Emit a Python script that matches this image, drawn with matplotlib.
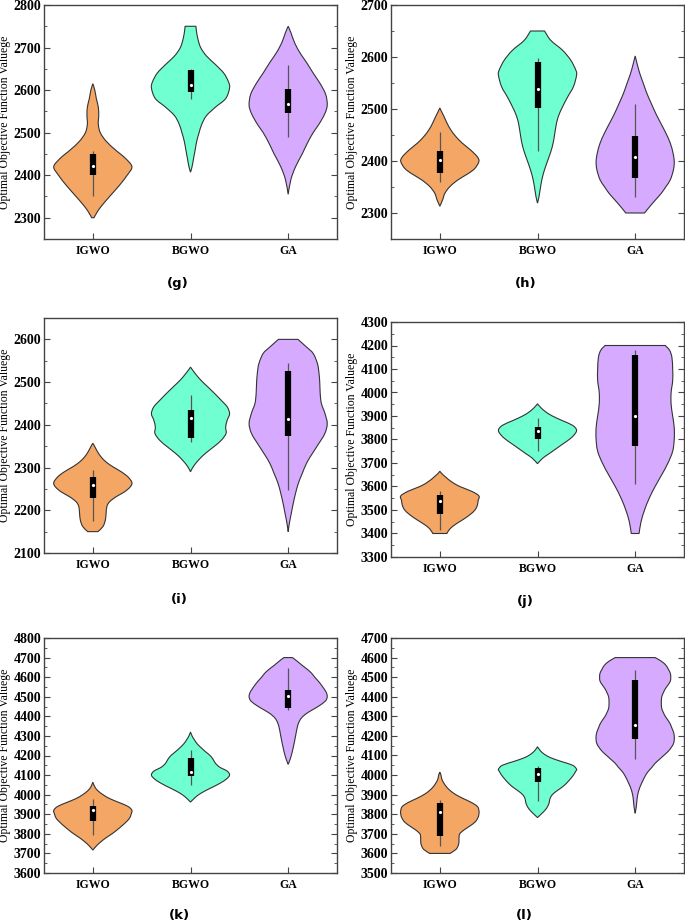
import matplotlib
matplotlib.use('Agg')
import matplotlib.pyplot as plt
import numpy as np
from matplotlib.ticker import MultipleLocator
from matplotlib.path import Path
from matplotlib.patches import PathPatch

algorithms = ['IGWO', 'BGWO', 'GA']
colors = ['#F4A664', '#70FFD1', '#D6ABFF']
panel_names = ['(g)', '(h)', '(i)', '(j)', '(k)', '(l)']

# violin profiles: value levels and relative half-width (percent of widest)
g_levels = [
    [2300, 2310, 2325, 2350, 2375, 2400, 2420, 2440, 2460, 2480, 2500, 2520, 2540, 2560, 2580, 2600, 2615],
    [2407, 2420, 2440, 2460, 2480, 2500, 2520, 2540, 2560, 2580, 2605, 2620, 2640, 2660, 2680, 2700, 2720, 2740, 2750],
    [2355, 2390, 2420, 2450, 2475, 2500, 2520, 2545, 2565, 2590, 2615, 2640, 2665, 2685, 2710, 2735, 2750],
]
g_widths = [
    [3, 9, 20, 43, 67, 88, 100, 83, 57, 34, 19, 14, 15, 14, 9, 5, 0],
    [0, 4, 8, 12, 16, 22, 29, 41, 64, 90, 100, 97, 85, 64, 41, 26, 19, 15, 14],
    [0, 7, 19, 36, 49, 64, 79, 94, 100, 96, 82, 64, 47, 32, 17, 7, 0],
]
h_levels = [
    [2313, 2325, 2338, 2351, 2364, 2376, 2386, 2399, 2408, 2421, 2434, 2447, 2460, 2472, 2485, 2494, 2502],
    [2319, 2332, 2351, 2370, 2390, 2409, 2428, 2447, 2466, 2485, 2504, 2523, 2543, 2565, 2575, 2594, 2613, 2632, 2650],
    [2300, 2313, 2326, 2338, 2351, 2364, 2383, 2399, 2415, 2434, 2453, 2472, 2491, 2511, 2530, 2549, 2568, 2584, 2602],
]
h_widths = [
    [0, 7, 13, 26, 47, 73, 90, 100, 96, 79, 58, 41, 28, 19, 11, 5, 0],
    [0, 4, 8, 13, 21, 30, 38, 43, 47, 53, 64, 77, 92, 100, 98, 85, 64, 34, 18],
    [24, 38, 53, 67, 79, 90, 98, 100, 97, 90, 79, 66, 53, 41, 30, 21, 12, 6, 0],
]
i_levels = [
    [2150, 2162, 2177, 2193, 2209, 2220, 2232, 2243, 2255, 2265, 2278, 2290, 2302, 2313, 2325, 2337, 2349, 2357],
    [2290, 2302, 2318, 2333, 2349, 2364, 2380, 2395, 2411, 2426, 2442, 2457, 2473, 2489, 2504, 2520, 2535],
    [2150, 2169, 2193, 2216, 2240, 2263, 2286, 2310, 2333, 2357, 2380, 2403, 2427, 2450, 2473, 2496, 2520, 2543, 2567, 2582, 2600],
]
i_widths = [
    [13, 26, 32, 34, 36, 43, 60, 81, 96, 100, 90, 73, 51, 34, 21, 12, 5, 0],
    [0, 7, 21, 38, 60, 79, 91, 90, 94, 100, 94, 79, 62, 44, 27, 12, 0],
    [0, 3, 8, 13, 19, 26, 36, 47, 62, 79, 94, 100, 94, 85, 82, 81, 79, 75, 64, 47, 25],
]
j_levels = [
    [3400, 3420, 3440, 3460, 3480, 3500, 3520, 3540, 3560, 3580, 3600, 3620, 3640, 3655, 3665],
    [3697, 3720, 3740, 3760, 3780, 3800, 3820, 3840, 3860, 3880, 3900, 3920, 3940, 3952],
    [3400, 3450, 3500, 3550, 3600, 3650, 3700, 3750, 3800, 3850, 3900, 3950, 4000, 4050, 4100, 4150, 4180, 4200],
]
j_widths = [
    [18, 26, 41, 60, 77, 90, 96, 98, 100, 81, 51, 30, 15, 5, 0],
    [0, 13, 30, 47, 64, 81, 94, 100, 90, 64, 38, 19, 6, 0],
    [10, 15, 24, 36, 51, 68, 84, 96, 100, 100, 96, 92, 92, 96, 96, 94, 88, 77],
]
k_levels = [
    [3717, 3740, 3760, 3780, 3800, 3820, 3840, 3860, 3880, 3900, 3920, 3940, 3960, 3980, 4000, 4020, 4040, 4064],
    [3962, 3980, 4000, 4020, 4040, 4060, 4080, 4100, 4120, 4140, 4160, 4180, 4200, 4220, 4240, 4260, 4280, 4300, 4320],
    [4155, 4170, 4200, 4250, 4300, 4350, 4380, 4400, 4420, 4440, 4460, 4480, 4500, 4520, 4540, 4560, 4580, 4600,
     4620, 4640, 4660, 4680, 4700],
]
k_widths = [
    [0, 10, 21, 34, 49, 62, 74, 85, 94, 98, 100, 90, 67, 43, 26, 13, 5, 0],
    [0, 9, 21, 38, 58, 77, 92, 100, 94, 75, 64, 58, 50, 38, 27, 17, 10, 4, 0],
    [0, 3, 8, 14, 19, 24, 30, 38, 51, 68, 84, 96, 100, 98, 92, 85, 77, 68, 60, 49, 36, 24, 11],
]
l_levels = [
    [3600, 3620, 3640, 3660, 3680, 3700, 3720, 3740, 3760, 3780, 3800, 3820, 3840, 3860, 3880, 3900, 3920, 3940,
     3960, 3980, 4000, 4015],
    [3783, 3800, 3820, 3840, 3860, 3880, 3900, 3920, 3940, 3960, 3980, 4000, 4020, 4030, 4050, 4070, 4090, 4110,
     4130, 4145],
    [3805, 3840, 3880, 3920, 3960, 4000, 4020, 4040, 4060, 4080, 4100, 4120, 4140, 4160, 4180, 4200, 4220, 4240,
     4260, 4280, 4300, 4320, 4340, 4360, 4380, 4400, 4420, 4440, 4460, 4480, 4500, 4520, 4540, 4560, 4580, 4600],
]
l_widths = [
    [26, 41, 47, 49, 49, 51, 62, 77, 90, 97, 100, 100, 96, 81, 60, 41, 27, 17, 10, 5, 3, 0],
    [0, 9, 19, 26, 30, 32, 38, 50, 64, 75, 84, 92, 98, 100, 90, 60, 32, 15, 5, 0],
    [0, 3, 5, 9, 17, 27, 34, 43, 51, 62, 73, 84, 92, 98, 100, 100, 98, 94, 90, 84, 77, 72, 68, 67, 67, 68, 72,
     77, 84, 90, 91, 90, 85, 79, 68, 51],
]

# box stats per algorithm: q1, median, q3, whisker low, whisker high
g_stats = [[2400, 2421, 2450, 2350, 2456], [2595, 2612, 2647, 2580, 2650], [2546, 2567, 2603, 2490, 2660]]
h_stats = [[2376, 2402, 2420, 2360, 2455], [2502, 2538, 2590, 2420, 2598], [2367, 2407, 2449, 2330, 2510]]
i_stats = [[2229, 2259, 2278, 2175, 2295], [2368, 2416, 2435, 2360, 2470], [2375, 2413, 2527, 2248, 2545]]
j_stats = [[3482, 3540, 3565, 3415, 3580], [3803, 3838, 3855, 3750, 3890], [3773, 3900, 4160, 3610, 4180]]
k_stats = [[3868, 3920, 3940, 3795, 3978], [4093, 4115, 4185, 4050, 4230], [4443, 4505, 4537, 4430, 4645]]
l_stats = [[3690, 3812, 3855, 3640, 3875], [3965, 4005, 4035, 3870, 4045], [4182, 4255, 4488, 4080, 4538]]

ylims = [(2250, 2800), (2250, 2700), (2100, 2650), (3300, 4300), (3600, 4800), (3500, 4700)]
ytick_ranges = [(2300, 2800), (2300, 2700), (2100, 2600), (3300, 4300), (3600, 4800), (3500, 4700)]

levels_all = [g_levels, h_levels, i_levels, j_levels, k_levels, l_levels]
widths_all = [g_widths, h_widths, i_widths, j_widths, k_widths, l_widths]
stats_all = [g_stats, h_stats, i_stats, j_stats, k_stats, l_stats]


def smooth_segments(pts):
    # catmull-rom style bezier control points so the outline is drawn as curves
    verts, codes = [], []
    n = len(pts)
    for i in range(n - 1):
        p0 = pts[max(i - 1, 0)]
        p1 = pts[i]
        p2 = pts[i + 1]
        p3 = pts[min(i + 2, n - 1)]
        c1 = p1 + (p2 - p0) / 6
        c2 = p2 - (p3 - p1) / 6
        verts += [c1, c2, p2]
        codes += [Path.CURVE4] * 3
    return verts, codes


def violin_patch(x0, y, w, color):
    right = np.column_stack([x0 + w, y])
    left = np.column_stack([x0 - w, y])[::-1]
    verts = [right[0]]
    codes = [Path.MOVETO]
    v, c = smooth_segments(right)
    verts += v
    codes += c
    verts.append(left[0])
    codes.append(Path.LINETO)
    v, c = smooth_segments(left)
    verts += v
    codes += c
    verts.append(right[0])
    codes.append(Path.CLOSEPOLY)
    return PathPatch(Path(np.array(verts), codes), facecolor=color, edgecolor='#333333',
                     linewidth=0.8, zorder=2)


plt.rcParams['font.family'] = ['Liberation Serif', 'DejaVu Serif']

W, H = 685, 923
fig = plt.figure(figsize=(W / 100, H / 100), dpi=100)

# axes boxes in pixels: left, right, top, bottom
boxes = [(44, 337, 5, 239), (391, 684, 5, 239),
         (44, 337, 318, 553), (391, 684, 322, 557),
         (44, 337, 638, 873), (391, 684, 638, 873)]
label_pos = [(178, 283), (526, 283), (179, 600), (525, 602), (179, 915), (524, 915)]

half_max = 0.40
for p in range(6):
    l, r, t, b = boxes[p]
    ax = fig.add_axes([l / W, 1 - b / H, (r - l) / W, (b - t) / H])
    for k in range(3):
        y = np.array(levels_all[p][k], dtype=float)
        w = np.array(widths_all[p][k], dtype=float) / 100 * half_max
        x0 = k + 1
        ax.add_patch(violin_patch(x0, y, w, colors[k]))
        q1, med, q3, lo, hi = stats_all[p][k]
        ax.vlines(x0, lo, hi, color='#555555', linewidth=0.9, zorder=3)
        ax.vlines(x0, q1, q3, color='black', linewidth=4.5, zorder=4)
        ax.plot(x0, med, 'o', color='white', markersize=2.3, markeredgewidth=0, zorder=5)

    ax.set_xlim(0.5, 3.5)
    ax.set_ylim(*ylims[p])
    lo_t, hi_t = ytick_ranges[p]
    ax.set_yticks(np.arange(lo_t, hi_t + 1, 100))
    ax.yaxis.set_minor_locator(MultipleLocator(50))
    ax.set_xticks([1, 2, 3])
    ax.set_xticklabels(algorithms, fontsize=8.5, fontweight='bold')
    for lab in ax.get_yticklabels():
        lab.set_fontsize(10)
        lab.set_fontweight('bold')
    ax.tick_params(axis='y', which='both', direction='in', left=True, right=True, color='#444444')
    ax.tick_params(axis='y', which='major', length=4, width=0.8, pad=2)
    ax.tick_params(axis='y', which='minor', length=2, width=0.6)
    ax.tick_params(axis='x', direction='in', length=4, width=0.8, color='#444444', pad=4)
    for s in ax.spines.values():
        s.set_color('#444444')
        s.set_linewidth(1.0)
    ax.set_ylabel('Optimal Objective Function Valuege', fontsize=8.5, labelpad=2)

    fig.text(label_pos[p][0] / W, 1 - label_pos[p][1] / H, panel_names[p], ha='center', va='center',
             fontsize=9.5, fontweight='bold', family=['DejaVu Sans'])

fig.savefig('out.png', dpi=100)
